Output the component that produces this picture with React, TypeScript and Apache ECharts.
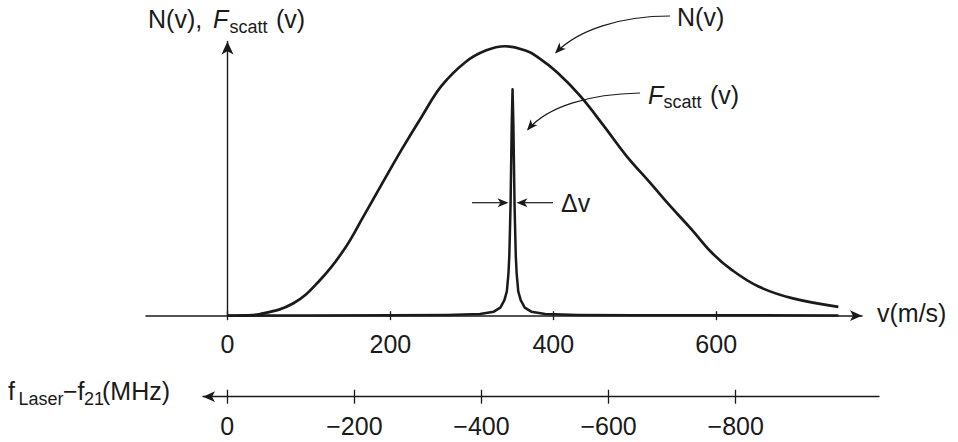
import React, { useEffect, useRef } from "react";
import * as echarts from "echarts";

// ---- data ----
const N_SPEED = [0, 20, 40, 81, 114, 143, 167, 190, 214, 239, 263, 292, 317, 341, 366, 380, 405, 433, 462, 490, 519, 544, 570, 595, 619, 652, 693, 750];
const N_VALUE = [0, 0.1, 0.6, 4.6, 13.3, 24.4, 36.8, 49.0, 61.6, 74.0, 85.2, 93.9, 98.2, 99.8, 98.2, 96.0, 90.1, 81.4, 70.3, 59.1, 49.2, 40.5, 31.9, 23.2, 17.0, 10.8, 6.5, 3.3];

const F_SPEED = [0, 100, 200, 270, 310, 327, 335, 340, 343, 345, 346, 347, 347.6, 349, 350, 351, 352.4, 353, 354, 355, 357, 360, 365, 373, 390, 430, 500, 600, 750];
const F_VALUE = [0, 0.1, 0.2, 0.3, 0.6, 1.5, 3.0, 5.8, 9.0, 15.8, 22.0, 34.0, 42.0, 71.0, 83.9, 71.0, 42.0, 34.0, 22.0, 15.8, 9.0, 5.8, 3.0, 1.5, 0.6, 0.3, 0.2, 0.15, 0.1];

const SPEED_TICKS = [0, 200, 400, 600];
const FREQ_TICKS = [0, -200, -400, -600, -800];

// ---- styling ----
const FONT = '"Liberation Sans", Arial, Helvetica, sans-serif';
const INK = "#1a1a1a";

function arrowHead(tipX: number, tipY: number, fromX: number, fromY: number, len = 11, half = 4.5, notch = 3) {
  const dx = tipX - fromX;
  const dy = tipY - fromY;
  const d = Math.hypot(dx, dy) || 1;
  const ux = dx / d;
  const uy = dy / d;
  const px = -uy;
  const py = ux;
  const bx = tipX - ux * len;
  const by = tipY - uy * len;
  return {
    type: "polygon",
    z: 100,
    shape: {
      points: [
        [tipX, tipY],
        [bx + px * half, by + py * half],
        [tipX - ux * (len - notch), tipY - uy * (len - notch)],
        [bx - px * half, by - py * half],
      ],
    },
    style: { fill: INK, stroke: "none" },
  };
}

function txt(text: string, x: number, y: number, size = 25, italic = false) {
  return {
    type: "text",
    x,
    y,
    z: 100,
    style: {
      text,
      fontSize: size,
      fontFamily: FONT,
      fontStyle: italic ? "italic" : "normal",
      fill: INK,
      align: "left",
      textAlign: "left",
      verticalAlign: "middle",
      textVerticalAlign: "middle",
    },
  };
}

function line(x1: number, y1: number, x2: number, y2: number) {
  return {
    type: "line",
    z: 100,
    shape: { x1, y1, x2, y2 },
    style: { stroke: INK, lineWidth: 1.2 },
  };
}

function curve(x1: number, y1: number, cpx1: number, cpy1: number, cpx2: number, cpy2: number, x2: number, y2: number) {
  return {
    type: "bezierCurve",
    z: 100,
    shape: { x1, y1, cpx1, cpy1, cpx2, cpy2, x2, y2 },
    style: { stroke: INK, lineWidth: 1.2, fill: "none" },
  };
}

const freqLabel = (v: number) => (v < 0 ? "\u2212" + Math.abs(v) : String(v));

export default function App() {
  const ref = useRef<HTMLDivElement>(null);

  useEffect(() => {
    if (!ref.current) return;
    const chart = echarts.init(ref.current, undefined, { renderer: "svg" });

    const axisLineStyle = { color: INK, width: 1.5 };
    const tickLineStyle = { color: INK, width: 1.3 };
    const labelStyle = { fontSize: 25, color: INK, fontFamily: FONT };

    const option: any = {
      animation: false,
      backgroundColor: "#ffffff",
      grid: [
        { left: 146, right: 96, top: 41.4, bottom: 126.3 },
        { left: 203, right: 79, top: 380, bottom: 45.3 },
      ],
      xAxis: [
        {
          type: "value",
          gridIndex: 0,
          min: -100,
          max: 779,
          position: "bottom",
          axisLine: { show: true, onZero: false, symbol: ["none", "arrow"], symbolSize: [8, 12], lineStyle: axisLineStyle },
          axisTick: { show: true, length: 4.5, customValues: SPEED_TICKS, lineStyle: tickLineStyle },
          axisLabel: { show: true, customValues: SPEED_TICKS, margin: 16, ...labelStyle },
          splitLine: { show: false },
        },
        {
          type: "value",
          gridIndex: 0,
          min: -100,
          max: 779,
          position: "bottom",
          axisLine: { show: false, onZero: false },
          axisTick: { show: true, inside: true, length: 4.5, customValues: SPEED_TICKS, lineStyle: tickLineStyle },
          axisLabel: { show: false },
          splitLine: { show: false },
        },
        {
          type: "value",
          gridIndex: 1,
          min: -1025.5,
          max: 38.2,
          inverse: true,
          position: "bottom",
          axisLine: { show: true, onZero: false, symbol: ["arrow", "none"], symbolSize: [8, 12], lineStyle: { color: INK, width: 1.3 } },
          axisTick: { show: true, length: 7, customValues: FREQ_TICKS, lineStyle: tickLineStyle },
          axisLabel: { show: true, customValues: FREQ_TICKS, margin: 17, formatter: freqLabel, ...labelStyle },
          splitLine: { show: false },
        },
        {
          type: "value",
          gridIndex: 1,
          min: -1025.5,
          max: 38.2,
          inverse: true,
          position: "bottom",
          axisLine: { show: false, onZero: false },
          axisTick: { show: true, inside: true, length: 7, customValues: FREQ_TICKS, lineStyle: tickLineStyle },
          axisLabel: { show: false },
          splitLine: { show: false },
        },
      ],
      yAxis: [
        {
          type: "value",
          gridIndex: 0,
          min: 0,
          max: 101.6,
          axisLine: { show: true, onZero: true, onZeroAxisIndex: 0, symbol: ["none", "arrow"], symbolSize: [9, 13], lineStyle: { color: INK, width: 1.4 } },
          axisTick: { show: false },
          axisLabel: { show: false },
          splitLine: { show: false },
        },
        { type: "value", gridIndex: 1, min: 0, max: 1, show: false },
      ],
      series: [
        {
          name: "N(v)",
          type: "line",
          xAxisIndex: 0,
          yAxisIndex: 0,
          data: N_SPEED.map((v, i) => [v, N_VALUE[i]]),
          showSymbol: false,
          smooth: 0.4,
          silent: true,
          lineStyle: { color: INK, width: 2.7 },
        },
        {
          name: "Fscatt(v)",
          type: "line",
          xAxisIndex: 0,
          yAxisIndex: 0,
          data: F_SPEED.map((v, i) => [v, F_VALUE[i]]),
          showSymbol: false,
          smooth: false,
          silent: true,
          lineStyle: { color: INK, width: 2.5, join: "round" },
        },
      ],
      graphic: {
        elements: [
          // y-axis title
          txt("N(v),", 148, 19),
          txt("F", 213, 19, 25, true),
          txt("scatt", 229.5, 26.5, 18),
          txt("(v)", 276, 19),
          // N(v) callout
          txt("N(v)", 677, 17),
          curve(670, 16, 620, 16, 578, 30, 556, 52.5),
          arrowHead(555, 53.5, 578, 30),
          // Fscatt callout
          txt("F", 648, 94.6, 25, true),
          txt("scatt", 663.5, 102, 18),
          txt("(v)", 710, 94.6),
          curve(640, 93, 590, 94, 548, 106, 528, 129.5),
          arrowHead(527, 130.5, 548, 106),
          // delta v markers
          line(472, 202.7, 502, 202.7),
          arrowHead(508.5, 202.7, 472, 202.7),
          line(553, 202.7, 523, 202.7),
          arrowHead(516.5, 202.7, 553, 202.7),
          txt("\u0394v", 561, 203),
          // axis titles
          txt("v(m/s)", 877, 313),
          txt("f", 8, 391),
          txt("Laser", 18.5, 399, 18),
          txt("\u2212f", 63, 391),
          txt("21", 84, 399, 18),
          txt("(MHz)", 102, 391),
        ],
      },
    };

    chart.setOption(option);
    return () => chart.dispose();
  }, []);

  return (
    <div
      ref={ref}
      style={{ position: "fixed", left: 0, top: 0, width: 958, height: 442, background: "#ffffff" }}
    />
  );
}
